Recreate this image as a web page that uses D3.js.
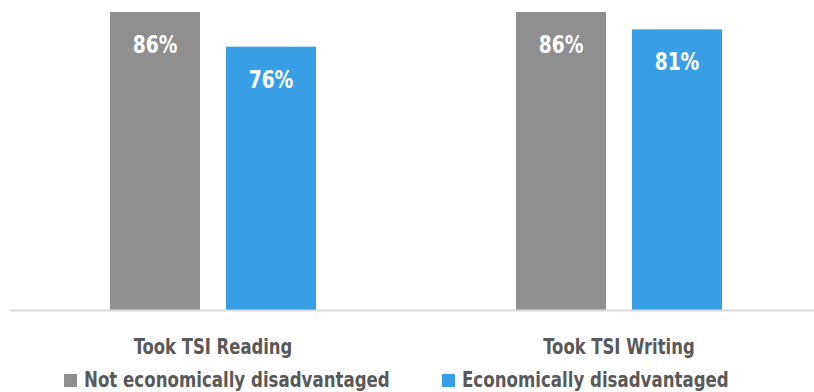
<!DOCTYPE html>
<html>
<head>
<meta charset="utf-8">
<script src="https://cdn.jsdelivr.net/npm/d3@7"></script>
<style>
    body { margin: 0; background: #fff; }
    svg { display: block; }
    text { font-family: "DejaVu Sans Condensed", "DejaVu Sans", sans-serif; font-weight: bold; }
</style>
</head>
<body>
<div id="chart"></div>
<script>
const categories = ["Took TSI Reading", "Took TSI Writing"];
const seriesNames = ["Not economically disadvantaged", "Economically disadvantaged"];
const notDisadvantaged = [0.86, 0.86];
const disadvantaged = [0.76, 0.81];
const colors = ["#8f8f8f", "#389fe6"];

const width = 814, height = 392;
const baseY = 310;

const svg = d3.select("#chart")
    .append("svg")
    .attr("width", width)
    .attr("height", height);

// squeeze glyphs a bit, the original font is narrower than DejaVu
function squeeze(sel, ratio){
    sel.each(function(){
        const w = this.getComputedTextLength();
        d3.select(this)
            .attr("textLength", w*ratio)
            .attr("lengthAdjust", "spacingAndGlyphs");
    });
}

const x0 = d3.scaleBand()
    .domain(categories)
    .range([10, 822])
    .padding(0);

const x1 = d3.scaleBand()
    .domain(seriesNames)
    .range([100, 306])
    .paddingInner(0.224);

const y = d3.scaleLinear()
    .domain([0, 1])
    .range([baseY, baseY - 346.5]);

const values = [notDisadvantaged, disadvantaged];

// bars
seriesNames.forEach(function(s, si){
    const rows = categories.map((c, i) => ({cat: c, v: values[si][i]}));
    const g = svg.append("g").attr("class", "series");
    g.selectAll("rect")
        .data(rows)
        .join("rect")
        .attr("x", d => x0(d.cat) + x1(s))
        .attr("y", d => y(d.v))
        .attr("width", x1.bandwidth())
        .attr("height", d => y(0) - y(d.v))
        .attr("fill", colors[si]);

    g.selectAll("text")
        .data(rows)
        .join("text")
        .attr("x", d => x0(d.cat) + x1(s) + x1.bandwidth()/2)
        .attr("y", d => y(d.v) + 41)
        .attr("text-anchor", "middle")
        .attr("fill", "#fff")
        .style("font-size", "25px")
        .text(d => Math.round(d.v*100) + "%")
        .call(squeeze, 0.83);
});

// baseline
svg.append("line")
    .attr("x1", 10)
    .attr("x2", width)
    .attr("y1", baseY + 0.5)
    .attr("y2", baseY + 0.5)
    .attr("stroke", "#d9d9d9")
    .attr("stroke-width", 2);

// category labels
const xAxis = d3.axisBottom(x0).tickSize(0).tickPadding(0);
const axisG = svg.append("g")
    .attr("transform", "translate(0," + baseY + ")")
    .call(xAxis);
axisG.select(".domain").remove();
axisG.selectAll("text")
    .attr("dy", null)
    .attr("y", 44)
    .attr("fill", "#595959")
    .style("font-size", "21px")
    .style("font-family", null)
    .call(squeeze, 0.87);

// legend
const legendX = [64, 442];
const legend = svg.append("g").attr("class", "legend");
seriesNames.forEach(function(s, i){
    legend.append("rect")
        .attr("x", legendX[i])
        .attr("y", 374)
        .attr("width", 13)
        .attr("height", 13)
        .attr("fill", colors[i]);
    legend.append("text")
        .attr("x", legendX[i] + 20)
        .attr("y", 387)
        .attr("fill", "#595959")
        .style("font-size", "22px")
        .text(s)
        .call(squeeze, 0.84);
});
</script>
</body>
</html>
